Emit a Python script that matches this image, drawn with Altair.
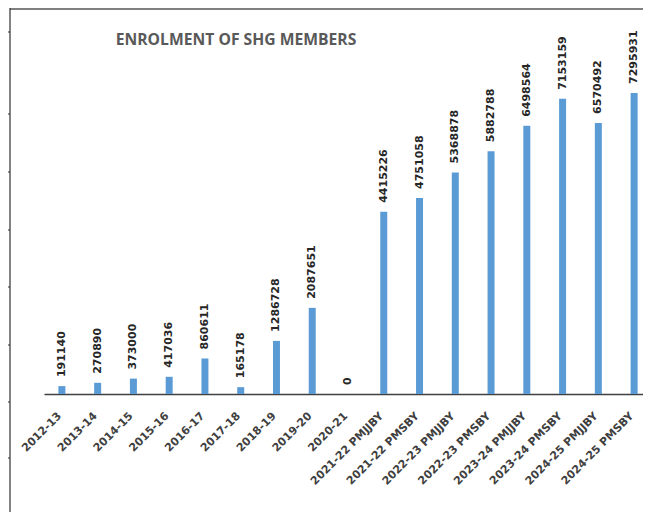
import altair as alt
import pandas as pd

categories = [
    "2012-13", "2013-14", "2014-15", "2015-16", "2016-17", "2017-18",
    "2018-19", "2019-20", "2020-21",
    "2021-22 PMJJBY", "2021-22 PMSBY", "2022-23 PMJJBY", "2022-23 PMSBY",
    "2023-24 PMJJBY", "2023-24 PMSBY", "2024-25 PMJJBY", "2024-25 PMSBY",
]
members = [
    191140, 270890, 373000, 417036, 860611, 165178,
    1286728, 2087651, 0,
    4415226, 4751058, 5368878, 5882788,
    6498564, 7153159, 6570492, 7295931,
]
title_text = "ENROLMENT OF SHG MEMBERS"

df = pd.DataFrame({"period": categories, "members": members})

W, H = 599, 386

x_enc = alt.X(
    "period:N", sort=categories,
    scale=alt.Scale(range=[0, 608], paddingInner=0, paddingOuter=0),
    axis=alt.Axis(
        title=None, labelAngle=-45, labelAlign="right", labelBaseline="middle",
        ticks=False, labelPadding=20, labelOffset=-2,
        labelFont="DejaVu Sans", labelFontWeight="bold", labelFontSize=11,
        labelColor="#404040", domainColor="#404040", domainWidth=1.5,
        labelOverlap=False, grid=False,
    ),
)
y_enc = alt.Y("members:Q", scale=alt.Scale(domain=[0, 9355000], nice=False), axis=None)

base = alt.Chart(df)
bars = base.mark_bar(size=7, color="#5b9bd5").encode(x=x_enc, y=y_enc)
labels = base.mark_text(
    angle=270, align="left", baseline="middle", dx=9,
    font="DejaVu Sans", fontWeight="bold", fontSize=11, color="#262626",
).encode(x=x_enc, y=y_enc, text=alt.Text("members:Q", format="d"))

one = pd.DataFrame({"k": [0]})
title = alt.Chart(one).mark_text(
    font="Open Sans", fontWeight="bold", fontSize=15.7, color="#595959",
    align="center", baseline="middle",
).encode(x=alt.value(192), y=alt.value(32), text=alt.value(title_text))

frame_top = alt.Chart(one).mark_rule(color="#808080", strokeWidth=2).encode(
    x=alt.value(-34), x2=alt.value(W), y=alt.value(1))
frame_left = alt.Chart(one).mark_rule(color="#303030", strokeWidth=1.2).encode(
    x=alt.value(-34), y=alt.value(0), y2=alt.value(504))
ticks = [
    alt.Chart(one).mark_rule(color="#303030", strokeWidth=1).encode(
        x=alt.value(-36), x2=alt.value(-34), y=alt.value(t))
    for t in [24, 106, 164, 222, 279, 337, 394, 450]
]

chart = alt.layer(frame_top, frame_left, *ticks, bars, labels, title).properties(
    width=W, height=H,
    padding={"left": 36, "top": 0, "right": 0, "bottom": 118},
    autosize=alt.AutoSizeParams(type="none"),
    background="white",
).configure_view(stroke=None)

chart.save("out.html", embed_options={"renderer": "svg", "actions": False})
